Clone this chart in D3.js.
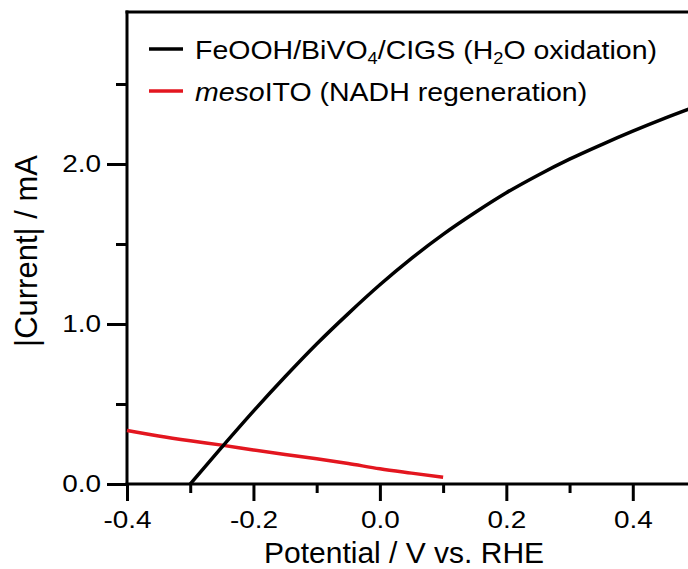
<!DOCTYPE html>
<html>
<head>
<meta charset="utf-8">
<script src="https://cdn.jsdelivr.net/npm/d3@7"></script>
<style>
  body { margin: 0; background: #fff; }
  svg { display: block; font-family: "Liberation Sans", Arial, sans-serif; }
</style>
</head>
<body>
<div class="chart"></div>
<script>

// black curve: FeOOH/BiVO4/CIGS (H2O oxidation)
var oxPotential = [-0.3, -0.25, -0.2, -0.15, -0.1, -0.05, 0.0, 0.05, 0.1, 0.15, 0.2, 0.25, 0.3, 0.35, 0.4, 0.45, 0.49];
var oxCurrent   = [0, 0.23, 0.455, 0.67, 0.875, 1.065, 1.245, 1.41, 1.56, 1.695, 1.82, 1.93, 2.03, 2.12, 2.205, 2.285, 2.345];

// red curve: mesoITO (NADH regeneration)
var redPotential = [-0.4, -0.35, -0.3, -0.25, -0.2, -0.15, -0.1, -0.05, 0.0, 0.05, 0.1];
var redCurrent   = [0.335, 0.30, 0.27, 0.243, 0.213, 0.185, 0.158, 0.128, 0.095, 0.068, 0.042];

// axis ticks
var xTicks = [-0.4, -0.2, 0.0, 0.2, 0.4];
var xMinorTicks = [-0.3, -0.1, 0.1, 0.3];
var yTicks = [0, 1, 2];
var yMinorTicks = [0.5, 1.5, 2.5];

var width = 688,
    height = 569;

// labels in the original are a bit wider than Arial
var stretch = 1.14;

var svg = d3.select('.chart')
            .append('svg')
            .attr("width", width)
            .attr("height", height);

// scales
var x = d3.scaleLinear()
    .domain([-0.4, 0.5])
    .range([127, 696]);

var y = d3.scaleLinear()
    .domain([0, 2.95])
    .range([484, 12]);

var fmt = function(d) { return d.toFixed(1); };

// x axis, major + minor ticks
svg.append("g")
    .attr("class", "major x")
    .attr("transform", "translate(0," + y(0) + ")")
    .call(d3.axisBottom(x).tickValues(xTicks).tickSize(17).tickPadding(10).tickFormat(fmt));

svg.append("g")
    .attr("transform", "translate(0," + y(0) + ")")
    .call(d3.axisBottom(x).tickValues(xMinorTicks).tickSize(9).tickFormat(""));

// y axis, major + minor ticks
svg.append("g")
    .attr("class", "major y")
    .attr("transform", "translate(" + x(-0.4) + ",0)")
    .call(d3.axisLeft(y).tickValues(yTicks).tickSize(20).tickPadding(6).tickFormat(fmt));

svg.append("g")
    .attr("transform", "translate(" + x(-0.4) + ",0)")
    .call(d3.axisLeft(y).tickValues(yMinorTicks).tickSize(11).tickFormat(""));

svg.selectAll(".tick line").attr("stroke-width", 3);
svg.selectAll(".tick text")
    .attr("font-size", 24.5)
    .attr("fill", "#000")
    .style("font-family", "'Liberation Sans', Arial, sans-serif");

// widen the tick labels in place
svg.selectAll(".major.x .tick text")
    .attr("transform", "scale(" + stretch + ",1)");
svg.selectAll(".major.y .tick text")
    .attr("x", -26 / stretch)
    .attr("transform", "scale(" + stretch + ",1)");

// replace domain paths with plain lines
svg.selectAll(".domain").remove();
svg.append("line")
    .attr("x1", x(-0.4) - 1.5).attr("x2", width)
    .attr("y1", y(0)).attr("y2", y(0))
    .attr("stroke", "#000").attr("stroke-width", 3);
svg.append("line")
    .attr("x1", x(-0.4)).attr("x2", x(-0.4))
    .attr("y1", y(2.95) - 1.5).attr("y2", y(0) + 1.5)
    .attr("stroke", "#000").attr("stroke-width", 3);
// top frame line
svg.append("line")
    .attr("x1", x(-0.4) - 1.5).attr("x2", width)
    .attr("y1", y(2.95)).attr("y2", y(2.95))
    .attr("stroke", "#000").attr("stroke-width", 3);

// curves
var line = d3.line()
    .x(function(d) { return x(d[0]); })
    .y(function(d) { return y(d[1]); })
    .curve(d3.curveMonotoneX);

svg.append("path")
    .datum(redPotential.map(function(v, i) { return [v, redCurrent[i]]; }))
    .attr("d", line)
    .attr("fill", "none")
    .attr("stroke", "#e3161f")
    .attr("stroke-width", 3.5);

svg.append("path")
    .datum(oxPotential.map(function(v, i) { return [v, oxCurrent[i]]; }))
    .attr("d", line)
    .attr("fill", "none")
    .attr("stroke", "#000")
    .attr("stroke-width", 3.5);

// axis titles
svg.append("text")
    .attr("x", 264)
    .attr("y", 563)
    .attr("font-size", 30)
    .text("Potential / V vs. RHE");

svg.append("text")
    .attr("transform", "translate(36.5,251) rotate(-90)")
    .attr("text-anchor", "middle")
    .attr("font-size", 31)
    .text("|Current| / mA");

// legend
var legend = svg.append("g");

legend.append("line")
    .attr("x1", 149).attr("x2", 183)
    .attr("y1", 49).attr("y2", 49)
    .attr("stroke", "#000").attr("stroke-width", 3.5);

var t1 = legend.append("g")
    .attr("transform", "translate(195,58.5) scale(" + stretch + ",1)")
    .append("text")
    .attr("font-size", 25);
t1.append("tspan").text("FeOOH/BiVO");
t1.append("tspan").attr("font-size", 16).attr("dy", 5).text("4");
t1.append("tspan").attr("dy", -5).text("/CIGS (H");
t1.append("tspan").attr("font-size", 16).attr("dy", 5).text("2");
t1.append("tspan").attr("dy", -5).text("O oxidation)");

legend.append("line")
    .attr("x1", 149).attr("x2", 183)
    .attr("y1", 91).attr("y2", 91)
    .attr("stroke", "#e3161f").attr("stroke-width", 3.5);

var t2 = legend.append("g")
    .attr("transform", "translate(195,101) scale(" + stretch + ",1)")
    .append("text")
    .attr("font-size", 25);
t2.append("tspan").attr("font-style", "italic").text("meso");
t2.append("tspan").text("ITO (NADH regeneration)");

</script>
</body>
</html>
